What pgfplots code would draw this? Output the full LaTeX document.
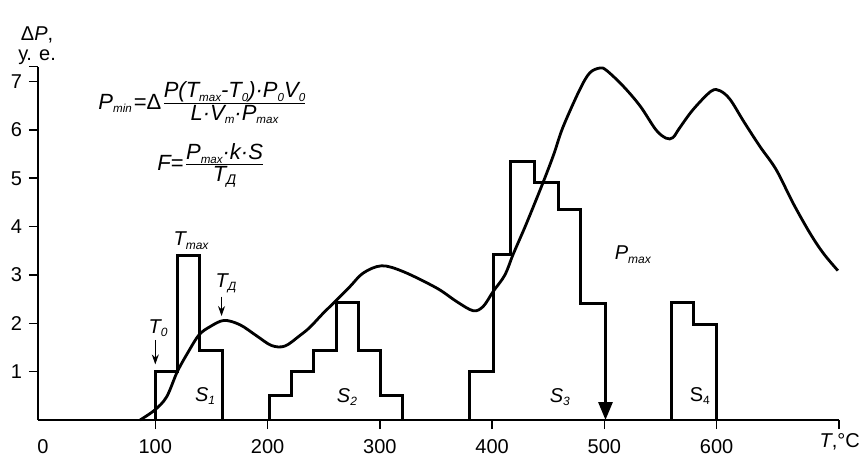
\documentclass[border=0pt]{standalone}
\usepackage{amsmath}
\usepackage{fontspec}
\setmainfont{Liberation Sans}
\usepackage{pgfplots}
\pgfplotsset{compat=1.18}
\usetikzlibrary{arrows.meta}
\newcommand\sub[2][5.8]{\raisebox{-0.3ex}{\fontsize{#1}{#1}\selectfont #2}}
\newcommand\fs{\fontsize{11}{13}\selectfont}
\begin{document}
\begin{tikzpicture}
\useasboundingbox (-19pt,-18.5pt) rectangle (412pt,210pt);
\begin{axis}[
  at={(0,0)}, anchor=south west,
  scale only axis, width=400.5pt, height=176.7pt,
  xmin=-4.5, xmax=709, ymin=0, ymax=7.31,
  axis lines=left,
  axis line style={-, line width=0.8pt},
  tick align=outside,
  major tick length=4.5pt,
  tick style={line width=0.8pt, black},
  xtick={100,200,300,400,500,600,709},
  xticklabels={100,200,300,400,500,600,{}},
  extra x ticks={0},
  extra x tick labels={0},
  extra x tick style={tick style={draw=none}},
  ytick={1,2,3,4,5,6,7,7.31},
  yticklabels={1,2,3,4,5,6,7,{}},
  xticklabel style={inner sep=0pt, yshift=-5.3pt},
  tick label style={font=\fontsize{10}{12}\selectfont},
  clip=false,
]
% S1
\addplot[black, line width=1.5pt, line join=miter] coordinates {
(100,0)(100,1.0)(120,1.0)(120,3.40)(139,3.40)(139,1.43)(160,1.43)(160,0)};
% S2
\addplot[black, line width=1.5pt, line join=miter] coordinates {
(202,0)(202,0.5)(221,0.5)(221,1.0)(241,1.0)(241,1.43)(261,1.43)(261,2.44)(281,2.44)(281,1.43)(301,1.43)(301,0.5)(320,0.5)(320,0)};
% S3
\addplot[black, line width=1.5pt, line join=miter, -{Triangle[length=9pt,width=7pt]}] coordinates {
(380,0)(380,1.0)(401,1.0)(401,3.43)(416,3.43)(416,5.35)(438,5.35)(438,4.92)(459,4.92)(459,4.36)(479,4.36)(479,2.42)(501,2.42)(501,0)};
% S4
\addplot[black, line width=1.5pt, line join=miter] coordinates {
(560,0)(560,2.44)(579,2.44)(579,1.97)(600,1.97)(600,0)};
% curve
\addplot[black, line width=1.4pt, smooth, tension=0.55] coordinates {
(86.4,0.0)(99.7,0.21)(110.1,0.48)(119.6,1.0)(129.4,1.41)(138.9,1.76)(148.7,1.93)(161.2,2.06)(175.4,1.97)(190.3,1.74)(203.6,1.54)(215.5,1.53)(228.9,1.75)(237.8,1.92)(249.6,2.21)(261.5,2.48)(273.4,2.76)(285.2,3.04)(301.6,3.19)(320.8,3.07)(350.6,2.73)(368.4,2.45)(383.2,2.26)(392.1,2.35)(401,2.66)(411.4,3.0)(418.8,3.43)(430.7,4.07)(445.5,4.92)(455,5.5)(463,6.05)(478,6.83)(487,7.18)(496,7.28)(502,7.23)(517,6.90)(532,6.49)(546,6.0)(555,5.83)(561,5.84)(567,6.04)(579,6.42)(595,6.80)(603,6.81)(612,6.63)(624,6.18)(638.5,5.66)(653,5.18)(668,4.49)(683,3.87)(695,3.45)(708,3.09)};
% small arrows
\addplot[black, line width=0.6pt, -{Stealth[length=5pt,width=3.5pt]}] coordinates {(100,1.66)(100,1.15)};
\addplot[black, line width=0.6pt, -{Stealth[length=5pt,width=3.5pt]}] coordinates {(159,2.55)(159,2.15)};
% labels
\node at (axis cs:-5.3,7.97) {Δ\textit{P},};
\node at (axis cs:-5.3,7.50) {у. е.};
\node at (axis cs:709.7,-0.455) {\textit{T},°C};
\node at (axis cs:102.4,1.90) {\textit{T\sub[6]{0}}};
\node at (axis cs:131.8,3.71) {\textit{T\sub[6]{max}}};
\node at (axis cs:163,2.82) {\textit{T\sub[6]{Д}}};
\node at (axis cs:144.3,0.50) {\textit{S\sub[6]{1}}};
\node at (axis cs:270.7,0.48) {\textit{S\sub[6]{2}}};
\node at (axis cs:460.4,0.48) {\textit{S\sub[6]{3}}};
\node at (axis cs:585,0.50) {S\sub[6]{4}};
\node at (axis cs:525.4,3.42) {\textit{P\sub[6]{max}}};
\node[anchor=west, inner sep=0pt] at (axis cs:49.0,6.56) {\fs\itshape P\sub{min}\upshape\kern1pt=Δ$\frac{\mbox{\fs\itshape P(T\sub{max}-T\sub{0})·P\sub{0}V\sub{0}}}{\mbox{\fs\itshape L·V\sub{m}·P\sub{max}}}$};
\node[anchor=west, inner sep=0pt] at (axis cs:101.5,5.26) {\fs\itshape F\upshape=$\frac{\mbox{\fs\itshape P\sub{max}·k·S}}{\mbox{\fs\itshape T\sub[7]{Д}}}$};
\end{axis}
\end{tikzpicture}
\end{document}
